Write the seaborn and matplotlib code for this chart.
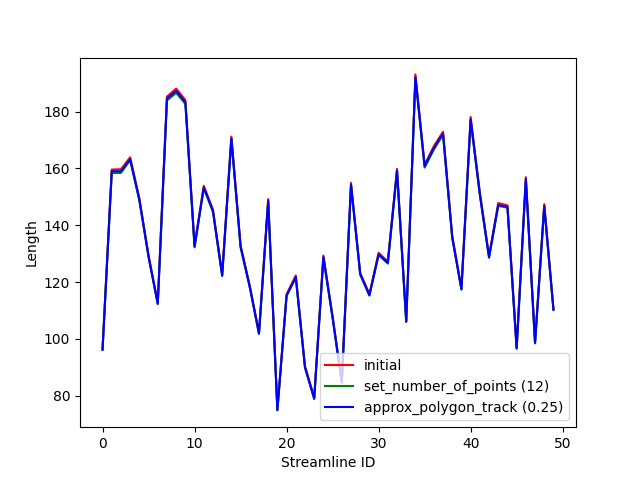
import numpy as np
import pandas as pd
import matplotlib
matplotlib.use("Agg")
import matplotlib.pyplot as plt
import seaborn as sns

# Streamline lengths
streamline_ids = list(range(50))

initial = [96.5, 159.6, 159.7, 163.9, 149.5, 129.4, 112.7, 185.3, 188.1, 184.1,
           132.9, 153.9, 145.5, 122.7, 171.2, 132.9, 118.7, 102.2, 149.2, 75.2,
           115.7, 122.3, 90.4, 79.3, 129.3, 107.9, 85.0, 154.9, 123.2, 115.8,
           130.3, 127.2, 159.8, 106.4, 193.1, 161.3, 167.8, 172.9, 136.2, 117.9,
           178.1, 151.5, 129.2, 147.8, 147.0, 97.0, 156.9, 98.9, 147.4, 110.6]

set_number_of_points = [96.1, 158.4, 158.4, 162.9, 148.7, 128.8, 112.2, 183.9, 186.6, 182.7,
                        132.2, 153.0, 144.7, 122.1, 170.3, 132.2, 118.1, 101.7, 148.3, 74.8,
                        115.1, 121.5, 89.8, 78.8, 128.5, 107.3, 84.5, 154.0, 122.6, 115.2,
                        129.5, 126.5, 158.9, 105.9, 191.8, 160.3, 166.6, 171.9, 135.5, 117.3,
                        176.9, 150.6, 128.5, 146.8, 146.2, 96.5, 155.9, 98.4, 146.5, 110.1]

approx_polygon_track = [96.2, 159.0, 159.0, 163.3, 149.0, 129.0, 112.4, 184.6, 187.3, 183.3,
                        132.5, 153.3, 145.0, 122.3, 170.6, 132.5, 118.3, 101.9, 148.6, 74.9,
                        115.3, 121.8, 90.0, 79.0, 128.8, 107.5, 84.7, 154.3, 122.8, 115.4,
                        129.8, 126.8, 159.2, 106.1, 192.2, 160.8, 167.2, 172.3, 135.8, 117.5,
                        177.3, 151.0, 128.8, 147.1, 146.5, 96.7, 156.3, 98.6, 146.8, 110.3]

df = pd.DataFrame({
    'id': streamline_ids,
    'initial': initial,
    'set_number_of_points (12)': set_number_of_points,
    'approx_polygon_track (0.25)': approx_polygon_track,
})

fig, ax = plt.subplots(figsize=(6.4, 4.8), dpi=100)

colors = {'initial': 'red',
          'set_number_of_points (12)': 'green',
          'approx_polygon_track (0.25)': 'blue'}
for name, color in colors.items():
    sns.lineplot(data=df, x='id', y=name, color=color, label=name, ax=ax)

ax.set_xlabel('Streamline ID')
ax.set_ylabel('Length')
ax.legend(loc='lower right')

fig.savefig('out.png', dpi=100)
